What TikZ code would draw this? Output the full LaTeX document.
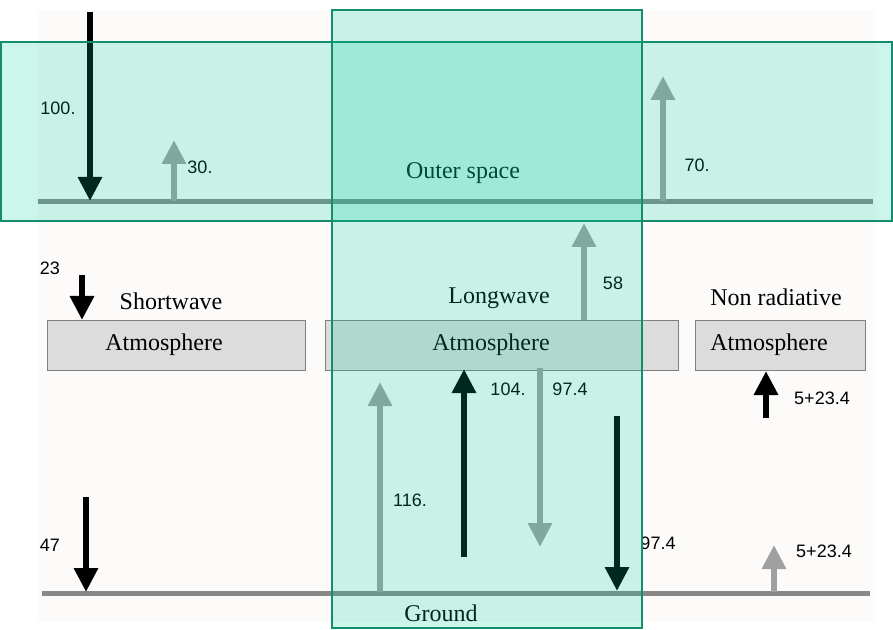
\documentclass[tikz,border=0pt]{standalone}
\usepackage{fontspec}
\setmainfont{Liberation Serif}
\newfontfamily\numfont{Liberation Sans}
\usetikzlibrary{arrows.meta, positioning}
\definecolor{bandgreen}{RGB}{0,204,155}
\definecolor{bandedge}{RGB}{20,140,110}
\definecolor{fluxgray}{RGB}{160,160,160}
\definecolor{linegray}{RGB}{136,136,136}
\definecolor{boxgray}{RGB}{220,220,220}
\definecolor{paper}{RGB}{252,251,250}

\begin{document}
\begin{tikzpicture}[x=0.5pt, y=-0.5pt,
        flux/.style={line width=3pt, -{Triangle[width=11.5pt, length=12pt]}},
        atmbox/.style={draw=gray, fill=boxgray, minimum height=25pt, inner sep=0pt},
        lbl/.style={font=\fontsize{12}{14}\selectfont, inner sep=0pt},
        num/.style={font=\numfont\fontsize{9}{11}\selectfont, inner sep=0pt},
        band/.style={draw=bandedge, line width=1pt, fill=bandgreen, fill opacity=0.2}]

        \useasboundingbox (0,0) rectangle (893,630);
        \fill[paper] (37,10) rectangle (876,622);

        % levels
        \coordinate (S1) at (38,202);
        \coordinate (S2) at (873,202);
        \coordinate (G1) at (42,593);
        \coordinate (G2) at (870,593);
        \draw [linegray, line width=2.5pt] (S1) -- (S2);
        \draw [linegray, line width=2.5pt] (G1) -- (G2);

        % atmosphere boxes
        \node[atmbox, minimum width=129pt] (A1) at (176,345) {};
        \node[atmbox, minimum width=176.5pt] (A2) at (501.5,345) {};
        \node[atmbox, minimum width=85pt] (A3) at (780,345) {};

        \node[lbl] (T1) at (164,345) {Atmosphere};
        \node[lbl] (T2) at (491,345) {Atmosphere};
        \node[lbl] (T3) at (769,345) {Atmosphere};
        \node[lbl] (H1) at (171,301) {Shortwave};
        \node[lbl] (H2) at (499,298) {Longwave};
        \node[lbl] (H3) at (776,297) {Non radiative};
        \node[lbl] (OS) at (463,173) {Outer space};
        \node[lbl] (GR) at (441,613) {Ground};

        % shortwave
        \coordinate (sw1a) at (90,12);   \coordinate (sw1b) at (90,201);
        \coordinate (sw2a) at (174,201); \coordinate (sw2b) at (174,140);
        \coordinate (sw3a) at (82,275);  \coordinate (sw3b) at (82,320);
        \coordinate (sw4a) at (86,497);  \coordinate (sw4b) at (86,592);
        \draw [flux, black] (sw1a) -- (sw1b);
        \draw [flux, fluxgray] (sw2a) -- (sw2b);
        \draw [flux, black] (sw3a) -- (sw3b);
        \draw [flux, black] (sw4a) -- (sw4b);

        % longwave
        \coordinate (lw1a) at (663,201); \coordinate (lw1b) at (663,76);
        \coordinate (lw2a) at (584,320); \coordinate (lw2b) at (584,223);
        \coordinate (lw3a) at (380,592); \coordinate (lw3b) at (380,382);
        \coordinate (lw4a) at (464,557); \coordinate (lw4b) at (464,369);
        \coordinate (lw5a) at (540,368); \coordinate (lw5b) at (540,547);
        \coordinate (lw6a) at (617,416); \coordinate (lw6b) at (617,591);
        \draw [flux, fluxgray] (lw1a) -- (lw1b);
        \draw [flux, fluxgray] (lw2a) -- (lw2b);
        \draw [flux, fluxgray] (lw3a) -- (lw3b);
        \draw [flux, black] (lw4a) -- (lw4b);
        \draw [flux, fluxgray] (lw5a) -- (lw5b);
        \draw [flux, black] (lw6a) -- (lw6b);

        % non radiative
        \coordinate (nr1a) at (766,418); \coordinate (nr1b) at (766,371);
        \coordinate (nr2a) at (774,592); \coordinate (nr2b) at (774,545);
        \draw [flux, black] (nr1a) -- (nr1b);
        \draw [flux, fluxgray] (nr2a) -- (nr2b);

        % values
        \node[num] (v100) at (58,108) {100.};
        \node[num] (v30) at (200,167) {30.};
        \node[num] (v70) at (697,165) {70.};
        \node[num] (v23) at (50,268) {23};
        \node[num] (v58) at (613,283) {58};
        \node[num] (v104) at (508,389) {104.};
        \node[num] (v97a) at (570,389) {97.4};
        \node[num] (v116) at (410,500) {116.};
        \node[num] (v97b) at (658,543) {97.4};
        \node[num] (v47) at (50,545) {47};
        \node[num] (v5a) at (822,398) {5+23.4};
        \node[num] (v5b) at (824,551) {5+23.4};

        % bands
        \draw [band] (1,42) rectangle (892,221);
        \draw [band] (332,10) rectangle (642,628);
\end{tikzpicture}
\end{document}
